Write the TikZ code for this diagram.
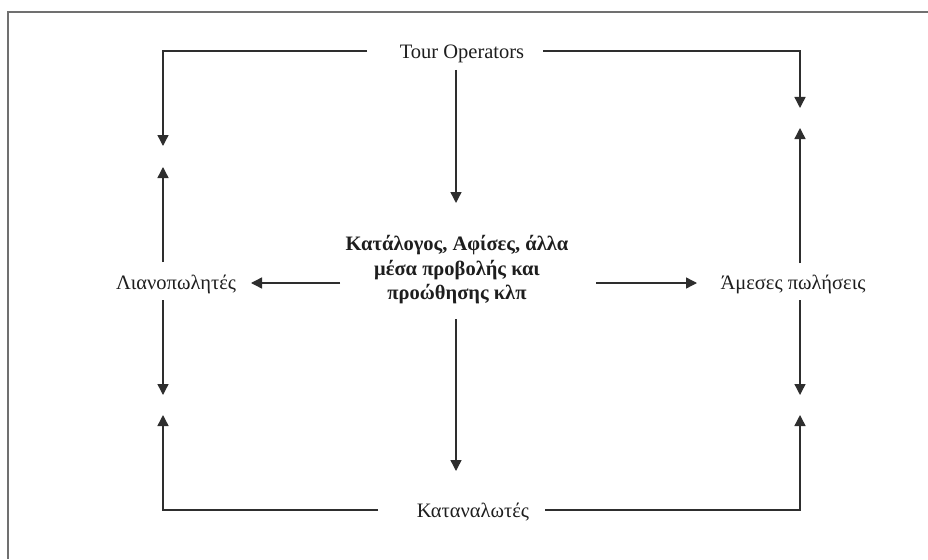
\documentclass[tikz,border=0pt]{standalone}
\usepackage{fontspec}
\setmainfont{Liberation Serif}
\usetikzlibrary{arrows.meta}
\definecolor{inkc}{HTML}{1E1E1E}
\definecolor{linec}{HTML}{2E2E2E}
\definecolor{framec}{HTML}{707070}
\tikzset{
  lbl/.style={inner sep=0pt, anchor=base, text=inkc, font=\fontsize{20.5}{24.5}\selectfont},
  mid/.style={inner sep=0pt, text=inkc, align=center, font=\fontsize{20.5}{24.5}\selectfont\bfseries},
  conn/.style={draw=linec, line width=1.4pt},
  arr/.style={conn, -{Triangle[width=11pt,length=11pt]}},
  framel/.style={draw=framec, line width=1.1pt}
}
\begin{document}
\begin{tikzpicture}[x=1pt,y=-1pt]
\useasboundingbox (0,0) rectangle (928,559);
\fill[white] (0,0) rectangle (928,559);
% frame
\coordinate (f1) at (8,559);
\coordinate (f2) at (8,12);
\coordinate (f3) at (928,12);
\draw[framel] (f1) -- (f2) -- (f3);

% labels
\node[lbl] (to) at (462,59) {Tour Operators};
\node[lbl] (ret) at (176,289) {Λιανοπωλητές};
\node[lbl] (dir) at (793,289) {Άμεσες πωλήσεις};
\node[lbl] (cons) at (473,517) {Καταναλωτές};
\node[mid] (cat) at (457,270) {Κατάλογος, Αφίσες, άλλα\\μέσα προβολής και\\προώθησης κλπ};

% corner coordinates
\coordinate (toL) at (367,51);
\coordinate (toR) at (543,51);
\coordinate (TL) at (163,51);
\coordinate (TR) at (800,51);
\coordinate (BL) at (163,510);
\coordinate (BR) at (800,510);
\coordinate (coL) at (378,510);
\coordinate (coR) at (545,510);

% left column
\coordinate (l1) at (163,146);
\coordinate (l2a) at (163,262);
\coordinate (l2) at (163,167);
\coordinate (l3a) at (163,300);
\coordinate (l3) at (163,395);
\coordinate (l4) at (163,415);
% right column
\coordinate (r1) at (800,108);
\coordinate (r2a) at (800,263);
\coordinate (r2) at (800,128);
\coordinate (r3a) at (800,300);
\coordinate (r3) at (800,395);
\coordinate (r4) at (800,415);
% centre
\coordinate (c1a) at (456,70);
\coordinate (c1) at (456,203);
\coordinate (c2a) at (456,319);
\coordinate (c2) at (456,471);
\coordinate (hLa) at (340,283);
\coordinate (hL) at (251,283);
\coordinate (hRa) at (596,283);
\coordinate (hR) at (697,283);

% connectors
\draw[arr] (toL) -- (TL) -- (l1);
\draw[arr] (toR) -- (TR) -- (r1);
\draw[arr] (l2a) -- (l2);
\draw[arr] (l3a) -- (l3);
\draw[arr] (r2a) -- (r2);
\draw[arr] (r3a) -- (r3);
\draw[arr] (coL) -- (BL) -- (l4);
\draw[arr] (coR) -- (BR) -- (r4);
\draw[arr] (c1a) -- (c1);
\draw[arr] (c2a) -- (c2);
\draw[arr] (hLa) -- (hL);
\draw[arr] (hRa) -- (hR);
\end{tikzpicture}
\end{document}
